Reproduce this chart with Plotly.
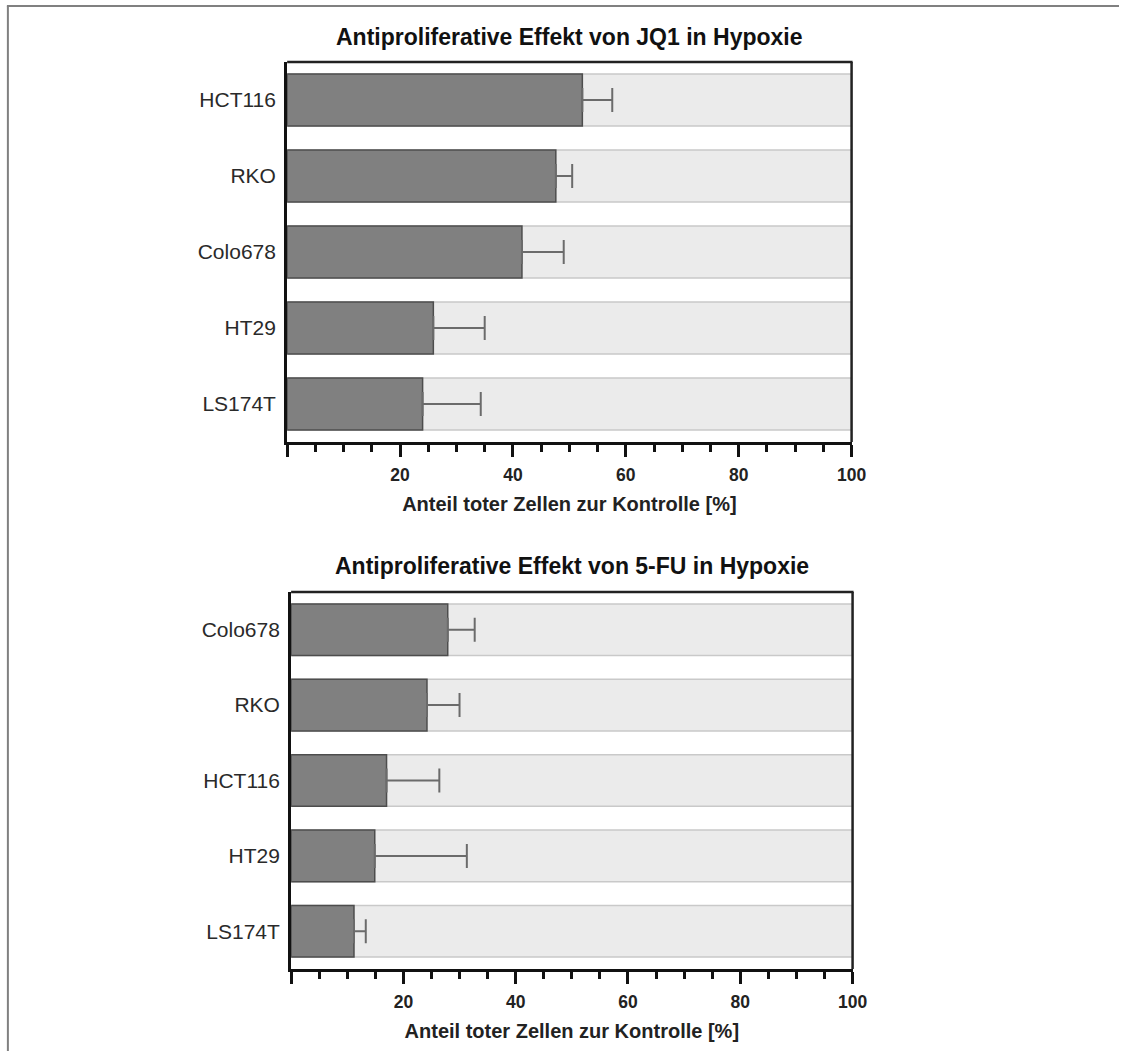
import plotly.graph_objects as go

# --- data -------------------------------------------------------------
jq1_lines = ["HCT116", "RKO", "Colo678", "HT29", "LS174T"]
jq1_mean = [52.3, 47.6, 41.6, 25.9, 24.0]
jq1_sd = [5.3, 2.9, 7.4, 9.1, 10.3]

fu_lines = ["Colo678", "RKO", "HCT116", "HT29", "LS174T"]
fu_mean = [27.9, 24.2, 17.0, 14.9, 11.2]
fu_sd = [4.8, 5.8, 9.4, 16.4, 2.1]

full_scale = 100
x_tickvals = [0, 20, 40, 60, 80, 100]
x_ticktext = ["", "20", "40", "60", "80", "100"]

titles = [
    "Antiproliferative Effekt von JQ1 in Hypoxie",
    "Antiproliferative Effekt von 5-FU in Hypoxie",
]
x_title = "Anteil toter Zellen zur Kontrolle [%]"

# --- geometry (pixels) -------------------------------------------------
W, H = 1134, 1051
FONT = "Liberation Sans, Arial, sans-serif"


def px_x(v):
    return v / W


def px_y(v):
    return 1 - v / H


panels = [
    dict(lines=jq1_lines, mean=jq1_mean, sd=jq1_sd, x0=291, x1=863, y0=62, y1=442,
         title=titles[0], title_y=36.5),
    dict(lines=fu_lines, mean=fu_mean, sd=fu_sd, x0=295, x1=864, y0=592, y1=969,
         title=titles[1], title_y=566),
]

fig = go.Figure()
shapes = []
annotations = []
layout_axes = {}

for i, p in enumerate(panels):
    suffix = "" if i == 0 else str(i + 1)
    xa, ya = "x" + suffix, "y" + suffix

    # full-width background bars
    fig.add_trace(go.Bar(
        y=p["lines"], x=[full_scale] * len(p["lines"]), orientation="h",
        xaxis=xa, yaxis=ya,
        marker=dict(color="#ebebeb", line=dict(color="#c9c9c9", width=1.5)),
        hoverinfo="skip", showlegend=False,
    ))
    # mean values with one-sided SD
    fig.add_trace(go.Bar(
        y=p["lines"], x=p["mean"], orientation="h",
        xaxis=xa, yaxis=ya,
        marker=dict(color="#808080", line=dict(color="#4d4d4d", width=1.5)),
        error_x=dict(type="data", array=p["sd"], arrayminus=[0] * len(p["sd"]),
                     symmetric=False, color="#6b6b6b", thickness=2, width=12),
        hoverinfo="skip", showlegend=False,
    ))

    layout_axes["xaxis" + suffix] = dict(
        domain=[px_x(p["x0"]), px_x(p["x1"])],
        anchor=ya, range=[0, 100],
        tickmode="array", tickvals=x_tickvals, ticktext=x_ticktext,
        ticks="outside", ticklen=12, tickwidth=2.5, tickcolor="#111",
        minor=dict(dtick=5, tick0=0, ticks="outside", ticklen=7, tickwidth=2.5,
                   tickcolor="#111", showgrid=False),
        showgrid=False, zeroline=False,
        showline=True, linecolor="#111", linewidth=3,
        ticklabelstandoff=3,
        tickfont=dict(family=FONT, size=17.5, color="#222", weight="bold"),
        title=dict(text=x_title, standoff=13,
                   font=dict(family=FONT, size=20, color="#222", weight="bold")),
    )
    layout_axes["yaxis" + suffix] = dict(
        domain=[px_y(p["y1"]), px_y(p["y0"])],
        anchor=xa, autorange="reversed",
        showgrid=False, zeroline=False, ticks="",
        showline=True, linecolor="#111", linewidth=3,
        ticklabelstandoff=4,
        tickfont=dict(family=FONT, size=21, color="#2a2a2a"),
    )

    # thinner frame on top and right
    shapes.append(dict(type="line", xref="paper", yref="paper",
                       x0=px_x(p["x0"]), x1=px_x(p["x1"]) + 1 / W,
                       y0=px_y(p["y0"]), y1=px_y(p["y0"]),
                       line=dict(color="#222", width=2.5)))
    shapes.append(dict(type="line", xref="paper", yref="paper",
                       x0=px_x(p["x1"]), x1=px_x(p["x1"]),
                       y0=px_y(p["y0"]), y1=px_y(p["y1"]),
                       line=dict(color="#222", width=2.5)))

    annotations.append(dict(
        text=p["title"], xref="paper", yref="paper",
        x=px_x((p["x0"] + p["x1"]) / 2), y=px_y(p["title_y"]),
        xanchor="center", yanchor="middle", showarrow=False,
        font=dict(family=FONT, size=23, color="#111", weight="bold"),
    ))

# outer page frame (top and left edges)
shapes.append(dict(type="line", xref="paper", yref="paper",
                   x0=px_x(7), x1=1, y0=px_y(6), y1=px_y(6),
                   line=dict(color="#808080", width=2)))
shapes.append(dict(type="line", xref="paper", yref="paper",
                   x0=px_x(8), x1=px_x(8), y0=px_y(6), y1=0,
                   line=dict(color="#808080", width=2)))

fig.update_layout(
    width=W, height=H,
    margin=dict(l=0, r=0, t=0, b=0),
    paper_bgcolor="white", plot_bgcolor="white",
    barmode="overlay", bargap=0.316,
    shapes=shapes, annotations=annotations,
    showlegend=False,
    **layout_axes,
)

fig.write_html("out.html", config={"displayModeBar": False})
